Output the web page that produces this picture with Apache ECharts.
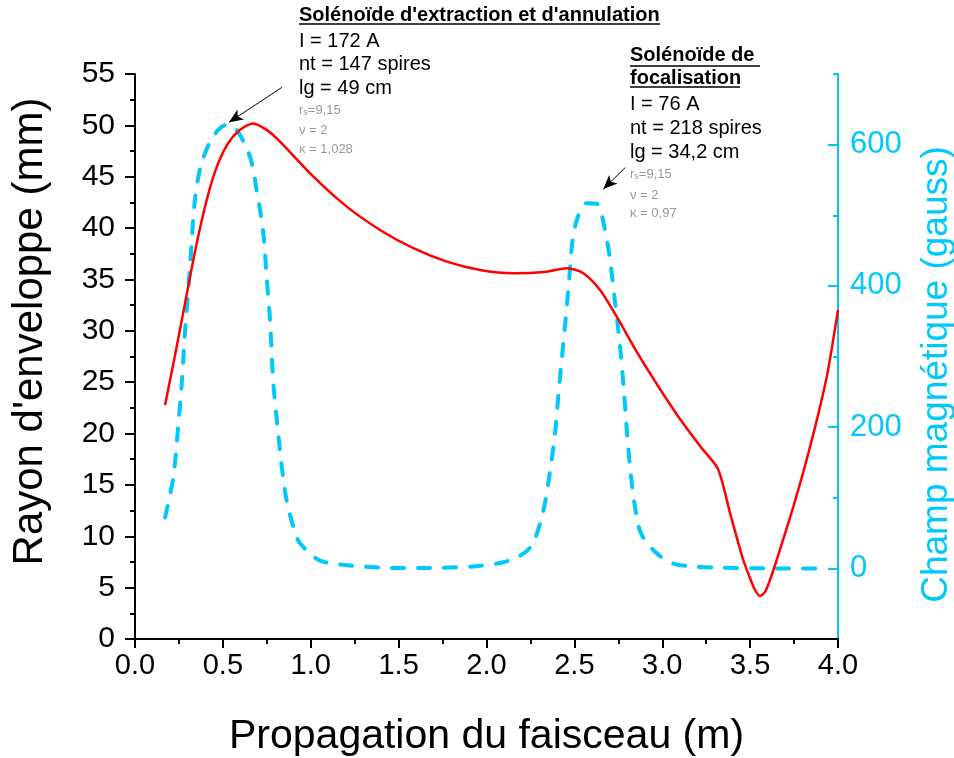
<!DOCTYPE html>
<html>
<head>
<meta charset="utf-8">
<script src="https://cdn.jsdelivr.net/npm/echarts@6/dist/echarts.min.js"></script>
<style>html,body{margin:0;padding:0;background:#fff}#c{width:954px;height:758px}</style>
</head>
<body>
<div id="c"></div>
<script>
// Envelope radius (mm) vs propagation (m)
const radiusX = [0.171,0.228,0.285,0.341,0.398,0.455,0.524,0.597,0.671,0.749,0.825,1.015,1.205,1.394,1.584,1.774,1.963,2.153,2.343,2.456,2.551,2.646,2.741,2.855,2.987,3.101,3.215,3.317,3.386,3.461,3.499,3.528,3.556,3.585,3.613,3.651,3.746,3.841,3.936,4.0];
const radiusY = [22.78,27.65,32.72,37.68,42.06,45.47,48.10,49.56,50.19,49.56,48.42,45.01,42.09,39.82,38.04,36.74,35.93,35.61,35.76,36.10,35.61,33.98,31.38,27.95,24.34,21.42,18.79,16.55,12.24,7.69,5.94,4.77,4.19,4.58,5.74,7.69,12.88,18.72,25.54,32.04];
// Magnetic field (gauss) vs propagation (m)
const fieldX = [0.171,0.218,0.247,0.266,0.284,0.313,0.341,0.379,0.446,0.52,0.578,0.654,0.692,0.73,0.749,0.768,0.787,0.815,0.835,0.863,0.92,0.958,1.053,1.22,1.41,1.525,1.75,1.94,2.13,2.25,2.32,2.36,2.39,2.41,2.43,2.45,2.47,2.49,2.52,2.57,2.63,2.67,2.70,2.73,2.76,2.78,2.80,2.82,2.845,2.88,2.97,3.06,3.16,3.31,3.6,3.94];
const fieldY = [72,129,205,262,333,427,522,574,612,628,621,583,536,475,413,352,262,191,144,96,44,30,11,4,1,0.5,1,3,11,30,78,135,191,248,300,352,408,465,498,517,516,484,442,380,314,257,191,135,87,49,21,7,3,1,0,0];
// Axis ticks
const xTicks = {min: 0, max: 4, step: 0.5};
const leftTicks = {min: 0, max: 55, step: 5};
const rightMajorTicks = [0, 200, 400, 600];
const rightMinorTicks = [100, 300, 500, 700];
const rightRange = {min: -100, max: 700, step: 100};
// Annotation arrows [tail, tip] in (m, mm)
const arrow1 = [[0.836, 53.7], [0.535, 50.3]];
const arrow2 = [[2.79, 45.9], [2.665, 43.8]];
// Annotation texts
const note1Title = "Solénoïde d'extraction et d'annulation";
const note1Lines = ["I = 172 A", "nt = 147 spires", "lg = 49 cm"];
const note1Params = ["=9,15", "ν = 2", "κ = 1,028"];
const note2Title = ["Solénoïde de ", "focalisation"];
const note2Lines = ["I = 76 A", "nt = 218 spires", "lg = 34,2 cm"];
const note2Params = ["=9,15", "ν = 2", "κ = 0,97"];

const FONT = "'Liberation Sans', Arial, sans-serif";
const CYAN = '#00C8FA';
const GRAY = '#999999';
const chart = echarts.init(document.getElementById('c'), null, {renderer: 'canvas'});

function txt(x, y, s, size, color, bold) {
  return {type: 'text', x: x, y: y, style: {text: s, fill: color, font: (bold ? 'bold ' : '') + size + 'px ' + FONT, textVerticalAlign: 'middle', textAlign: 'left'}};
}
function rsTxt(x, y, s) {
  return {type: 'text', x: x, y: y, style: {text: '{r|r}{s|s}{r|' + s + '}', fill: GRAY, textVerticalAlign: 'middle',
    rich: {r: {fontSize: 13, fontFamily: FONT, fill: GRAY, color: GRAY}, s: {fontSize: 9, fontFamily: FONT, fill: GRAY, color: GRAY, verticalAlign: 'bottom', padding: [6, 0, 0, 0]}}}};
}
function uline(x1, x2, y) {
  return {type: 'line', shape: {x1: x1, y1: y, x2: x2, y2: y}, style: {stroke: '#000', lineWidth: 1.5}};
}

const graphics = [
  txt(299, 15, note1Title, 20, '#000', true), uline(299, 660, 24),
  txt(299, 41, note1Lines[0], 20, '#000'),
  txt(299, 64, note1Lines[1], 20, '#000'),
  txt(299, 88, note1Lines[2], 20, '#000'),
  rsTxt(299, 110, note1Params[0]),
  txt(299, 130, note1Params[1], 13, GRAY),
  txt(299, 149, note1Params[2], 13, GRAY),
  txt(630, 55, note2Title[0], 20, '#000', true), uline(630, 760, 66),
  txt(630, 78, note2Title[1], 20, '#000', true), uline(630, 740, 87),
  txt(630, 104, note2Lines[0], 20, '#000'),
  txt(630, 128, note2Lines[1], 20, '#000'),
  txt(630, 152, note2Lines[2], 20, '#000'),
  rsTxt(630, 174, note2Params[0]),
  txt(630, 195, note2Params[1], 13, GRAY),
  txt(630, 213, note2Params[2], 13, GRAY)
];

chart.setOption({
  animation: false,
  backgroundColor: '#fff',
  grid: {left: 135, right: 116, top: 74, bottom: 119, containLabel: false, outerBoundsMode: 'none'},
  xAxis: {
    type: 'value', min: xTicks.min, max: xTicks.max, interval: xTicks.step,
    name: 'Propagation du faisceau (m)', nameLocation: 'middle', nameGap: 77,
    nameTextStyle: {fontSize: 41, fontFamily: FONT, color: '#000'},
    axisLine: {lineStyle: {color: '#000', width: 2}},
    axisTick: {inside: false, length: 9, lineStyle: {color: '#000', width: 2}},
    minorTick: {show: true, splitNumber: 2, length: 5, lineStyle: {color: '#000', width: 2}},
    axisLabel: {fontSize: 29, fontFamily: FONT, color: '#000', margin: 12, formatter: v => v.toFixed(1)},
    splitLine: {show: false}, minorSplitLine: {show: false}
  },
  yAxis: [{
    type: 'value', position: 'left', min: leftTicks.min, max: leftTicks.max, interval: leftTicks.step,
    name: "Rayon d'enveloppe (mm)", nameLocation: 'middle', nameRotate: 90, nameGap: 84,
    nameTextStyle: {fontSize: 42, fontFamily: FONT, color: '#000', padding: [0, 0, 0, 50]},
    axisLine: {show: true, lineStyle: {color: '#000', width: 2}},
    axisTick: {show: true, inside: false, length: 10, lineStyle: {color: '#000', width: 2}},
    minorTick: {show: true, splitNumber: 2, length: 5, lineStyle: {color: '#000', width: 2}},
    axisLabel: {fontSize: 30, fontFamily: FONT, color: '#000', margin: 20},
    splitLine: {show: false}, minorSplitLine: {show: false}
  }, {
    type: 'value', position: 'right', min: rightRange.min, max: rightRange.max, interval: rightRange.step,
    name: 'Champ magnétique (gauss)', nameLocation: 'middle', nameRotate: 90, nameGap: 80,
    nameTextStyle: {fontSize: 37, fontFamily: FONT, color: CYAN, padding: [0, 36, 0, 0]},
    axisLine: {show: true, lineStyle: {color: CYAN, width: 2}},
    axisTick: {show: true, inside: true, length: 10, customValues: rightMajorTicks, lineStyle: {color: CYAN, width: 2}},
    axisLabel: {fontSize: 31, fontFamily: FONT, color: CYAN, margin: 12, customValues: rightMajorTicks},
    splitLine: {show: false}
  }, {
    type: 'value', position: 'right', min: rightRange.min, max: rightRange.max, interval: rightRange.step,
    axisLine: {show: false},
    axisTick: {show: true, inside: true, length: 5, customValues: rightMinorTicks, lineStyle: {color: CYAN, width: 2}},
    axisLabel: {show: false},
    splitLine: {show: false}
  }],
  series: [{
    name: 'radius', type: 'line', yAxisIndex: 0, showSymbol: false, smooth: 0.25,
    data: radiusX.map((x, i) => [x, radiusY[i]]),
    lineStyle: {color: '#FF0000', width: 2.5},
    z: 3,
    markLine: {
      silent: true, symbol: ['none', 'arrow'], symbolSize: [9, 14], label: {show: false},
      lineStyle: {color: '#000', width: 1, type: 'solid'},
      data: [
        [{coord: arrow1[0]}, {coord: arrow1[1]}],
        [{coord: arrow2[0]}, {coord: arrow2[1]}]
      ]
    }
  }, {
    name: 'field', type: 'line', yAxisIndex: 1, showSymbol: false, smooth: 0.3,
    data: fieldX.map((x, i) => [x, fieldY[i]]),
    lineStyle: {color: CYAN, width: 4, type: [12, 14], cap: 'round'},
    z: 2
  }],
  graphic: graphics
});
</script>
</body>
</html>
